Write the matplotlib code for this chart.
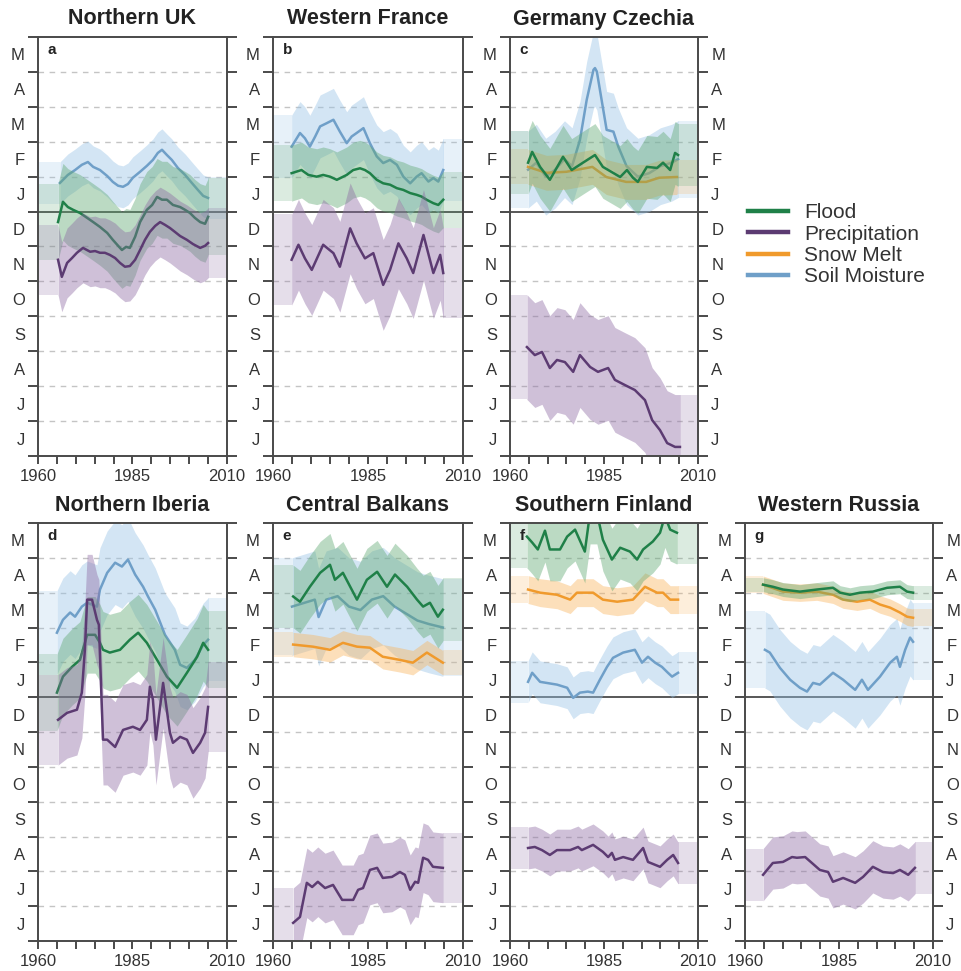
import matplotlib
matplotlib.use('Agg')
import matplotlib.pyplot as plt
import numpy as np
from matplotlib.lines import Line2D

plt.rcParams['font.family'] = ['Liberation Sans', 'DejaVu Sans']

# ---------------- data ----------------
MONTH_LABELS = ['J', 'J', 'A', 'S', 'O', 'N', 'D', 'J', 'F', 'M', 'A', 'M']
YEAR_LABELS = [1960, 1985, 2010]
SERIES_NAMES = ['Flood', 'Precipitation', 'Snow Melt', 'Soil Moisture']
PANEL_TITLES = ['Northern UK', 'Western France', 'Germany Czechia',
                'Northern Iberia', 'Central Balkans', 'Southern Finland', 'Western Russia']
PANEL_LETTERS = ['a', 'b', 'c', 'd', 'e', 'f', 'g']

# a: Northern UK
a_soil_x = [1965.8, 1967.9, 1969.8, 1971.6, 1973.2, 1974.6, 1976.4, 1978.3, 1979.8, 1981.2, 1982.5, 1983.8, 1985.1,
            1987.0, 1988.8, 1990.4, 1991.7, 1992.8, 1994.1, 1995.4, 1997.0, 1998.9, 2000.7, 2002.3, 2003.7, 2005.0]
a_soil_y = [7.82, 8.05, 8.19, 8.34, 8.42, 8.28, 8.19, 8.02, 7.85, 7.74, 7.71, 7.79, 7.97,
            8.14, 8.31, 8.48, 8.68, 8.77, 8.62, 8.48, 8.25, 8.05, 7.82, 7.62, 7.45, 7.39]
a_flood_x = [1965.3, 1966.6, 1967.9, 1969.3, 1971.1, 1973.0, 1974.6, 1976.4, 1978.3, 1979.8, 1981.2, 1982.2, 1983.3,
             1984.3, 1985.7, 1987.0, 1988.8, 1990.2, 1991.5, 1992.8, 1994.1, 1995.7, 1997.6, 1998.9, 2000.2, 2001.5,
             2002.9, 2004.2, 2005.0]
a_flood_y = [6.70, 7.28, 7.13, 7.05, 6.96, 6.82, 6.70, 6.56, 6.39, 6.19, 6.02, 5.90, 5.99,
             5.96, 6.28, 6.70, 7.05, 7.19, 7.42, 7.34, 7.34, 7.19, 7.13, 7.05, 6.96, 6.82,
             6.70, 6.65, 6.85]
a_precip_x = [1965.3, 1966.3, 1967.7, 1969.0, 1970.3, 1971.9, 1973.8, 1975.1, 1976.4, 1977.7, 1979.0, 1980.4, 1981.7,
              1983.0, 1984.3, 1985.7, 1987.0, 1988.3, 1989.6, 1991.0, 1992.3, 1993.6, 1994.9, 1996.2, 1997.6, 1999.4,
              2001.0, 2002.9, 2004.2, 2005.0]
a_precip_y = [5.62, 5.13, 5.53, 5.67, 5.82, 5.96, 5.85, 5.87, 5.82, 5.82, 5.76, 5.67, 5.53,
              5.42, 5.44, 5.62, 5.90, 6.19, 6.42, 6.59, 6.70, 6.62, 6.53, 6.42, 6.30, 6.19,
              6.07, 5.96, 6.02, 6.10]

# b: Western France
b_soil_x = [1964.9, 1967.1, 1968.4, 1969.7, 1971.1, 1972.4, 1974.1, 1975.9, 1977.6, 1979.4, 1980.7, 1982.0, 1983.8,
            1985.5, 1987.3, 1989.0, 1990.8, 1992.6, 1994.3, 1996.1, 1997.8, 1999.1, 2000.9, 2002.2, 2003.5, 2004.8]
b_soil_y = [8.86, 9.25, 9.10, 8.86, 9.15, 9.44, 9.53, 9.63, 9.29, 8.96, 9.15, 9.25, 9.39,
            8.96, 8.58, 8.39, 8.48, 8.34, 8.00, 7.81, 8.00, 8.10, 7.86, 7.96, 7.86, 8.19]
b_flood_x = [1964.9, 1967.5, 1969.3, 1971.5, 1973.2, 1975.0, 1976.8, 1979.4, 1981.1, 1982.9, 1984.2, 1985.5, 1987.3,
             1989.0, 1990.8, 1992.6, 1994.3, 1996.1, 1997.8, 1999.1, 2000.4, 2002.2, 2003.5, 2004.8]
b_flood_y = [8.10, 8.19, 8.05, 8.00, 8.05, 8.00, 7.91, 8.05, 8.19, 8.24, 8.19, 8.10, 7.91,
             7.81, 7.77, 7.67, 7.62, 7.53, 7.48, 7.43, 7.34, 7.24, 7.19, 7.34]
b_precip_x = [1964.9, 1966.7, 1968.4, 1970.2, 1973.2, 1975.9, 1977.6, 1980.3, 1982.0, 1984.2, 1986.4, 1989.0, 1990.8,
              1993.0, 1995.2, 1996.9, 1999.6, 2002.2, 2004.0, 2004.8]
b_precip_y = [5.62, 6.05, 5.66, 5.33, 6.05, 5.81, 5.42, 6.52, 6.09, 5.66, 5.81, 4.90, 5.33,
              6.09, 5.66, 5.24, 6.33, 5.24, 5.76, 5.24]

# c: Germany Czechia
c_soil_x = [1964.8, 1967.0, 1969.5, 1972.0, 1974.5, 1976.5, 1978.6, 1980.4, 1982.2, 1982.6, 1983.1, 1985.7, 1987.5,
            1988.8, 1991.0, 1994.0, 1997.0, 2000.0, 2003.0, 2004.7]
c_soil_y = [8.2, 8.4, 8.0, 8.2, 8.5, 8.3, 9.05, 10.2, 11.06, 11.11, 11.01, 9.34, 9.29,
            8.86, 8.3, 8.0, 8.1, 8.3, 8.4, 8.5]
c_flood_x = [1964.8, 1965.9, 1968.0, 1970.6, 1974.1, 1976.4, 1979.4, 1982.6, 1984.7, 1987.4, 1989.3, 1991.1, 1992.7,
             1994.0, 1996.4, 1999.1, 2000.7, 2002.6, 2003.9, 2004.7]
c_flood_y = [8.40, 8.71, 8.28, 7.91, 8.57, 8.19, 8.40, 8.62, 8.28, 8.11, 7.99, 8.19, 7.97,
             7.85, 8.28, 8.25, 8.40, 8.19, 8.68, 8.62]
c_snow_x = [1964.8, 1969.7, 1975.0, 1981.9, 1985.6, 1990.9, 1996.2, 1999.7, 2004.4]
c_snow_y = [8.28, 8.11, 8.14, 8.28, 7.99, 7.85, 7.85, 7.97, 7.99]
c_precip_x = [1964.5, 1966.6, 1968.5, 1970.6, 1972.5, 1974.6, 1976.8, 1978.6, 1981.3, 1983.4, 1986.1, 1987.9, 1990.6,
              1993.2, 1995.9, 1997.8, 1999.9, 2001.8, 2003.9, 2005.2]
c_precip_y = [3.12, 2.89, 2.98, 2.52, 2.75, 2.69, 2.41, 2.89, 2.55, 2.41, 2.52, 2.18, 2.03,
              1.89, 1.60, 1.03, 0.74, 0.37, 0.26, 0.26]

# d: Northern Iberia
d_soil_x = [1965.0, 1966.6, 1968.5, 1969.8, 1971.6, 1973.0, 1975.6, 1976.4, 1978.3, 1980.4, 1982.2, 1983.8, 1985.7,
            1987.8, 1989.1, 1991.0, 1993.6, 1996.2, 1997.6, 1999.4, 2001.5, 2003.7, 2005.0]
d_soil_y = [8.85, 9.22, 9.43, 9.31, 9.60, 9.71, 9.60, 10.09, 10.57, 10.86, 10.75, 10.95, 10.52,
            10.17, 9.89, 9.51, 8.79, 8.36, 7.93, 7.84, 8.07, 8.50, 8.65]
d_flood_x = [1965.0, 1966.6, 1969.0, 1971.1, 1973.0, 1975.1, 1976.4, 1977.2, 1979.0, 1981.7, 1984.3, 1986.5, 1988.8,
             1991.5, 1994.1, 1996.8, 1999.4, 2002.1, 2003.7, 2005.0]
d_flood_y = [7.13, 7.59, 7.87, 8.07, 8.79, 8.79, 8.56, 8.36, 8.28, 8.36, 8.65, 8.85, 8.56,
             8.07, 7.59, 7.27, 7.70, 8.16, 8.56, 8.36]
d_precip_x = [1965.3, 1967.7, 1970.3, 1971.6, 1972.4, 1973.0, 1974.3, 1975.6, 1976.1, 1977.2, 1978.3, 1980.4, 1982.5,
              1985.1, 1987.0, 1988.8, 1989.6, 1990.4, 1991.2, 1993.1, 1994.9, 1995.7, 1997.6, 1999.4, 2001.0, 2002.9,
              2004.2, 2005.0]
d_precip_y = [6.35, 6.55, 6.64, 7.13, 8.36, 9.80, 9.80, 9.22, 9.08, 5.78, 5.78, 5.57, 6.06,
              6.15, 6.06, 6.35, 7.30, 6.93, 5.78, 7.41, 5.98, 5.69, 5.86, 5.78, 5.40, 5.69,
              5.98, 6.72]

# e: Central Balkans
e_soil_x = [1965.0, 1968.0, 1971.0, 1972.0, 1974.0, 1977.0, 1980.0, 1983.0, 1986.0, 1989.0, 1992.0, 1995.0, 1998.0,
            2001.0, 2004.7]
e_soil_y = [9.6, 9.7, 9.8, 9.3, 9.8, 9.9, 9.6, 9.5, 9.8, 9.9, 9.6, 9.4, 9.2, 9.1, 9.0]
e_flood_x = [1965.3, 1967.1, 1969.7, 1972.4, 1975.0, 1976.3, 1978.4, 1982.1, 1984.7, 1987.4, 1990.0, 1992.1, 1995.3,
             1997.9, 1999.5, 2001.3, 2003.4, 2004.7]
e_flood_y = [9.89, 9.74, 10.17, 10.57, 10.80, 10.37, 10.57, 9.80, 10.37, 10.60, 10.17, 10.52, 10.17,
             9.80, 9.60, 9.71, 9.31, 9.51]
e_snow_x = [1965.3, 1970.5, 1975.0, 1978.4, 1982.1, 1985.5, 1988.9, 1993.4, 1996.8, 2000.5, 2004.7]
e_snow_y = [8.51, 8.45, 8.36, 8.56, 8.45, 8.42, 8.16, 8.07, 7.99, 8.28, 7.99]
e_precip_x = [1965.3, 1967.1, 1968.9, 1970.3, 1971.8, 1973.7, 1975.8, 1978.2, 1981.1, 1982.4, 1983.7, 1985.5, 1987.4,
              1988.9, 1991.3, 1993.4, 1994.7, 1996.1, 1997.4, 1998.2, 1999.5, 2000.8, 2002.1, 2004.7]
e_precip_y = [0.52, 0.69, 1.67, 1.55, 1.70, 1.52, 1.61, 1.18, 1.18, 1.47, 1.52, 2.04, 2.10,
              1.81, 1.84, 1.98, 1.90, 1.47, 1.70, 1.67, 2.39, 2.33, 2.13, 2.10]

# f: Southern Finland
f_flood_x = [1964.5, 1965.9, 1967.4, 1969.3, 1970.6, 1973.3, 1975.2, 1977.3, 1979.9, 1981.3, 1983.1, 1984.7, 1987.1,
             1989.3, 1991.9, 1993.8, 1995.4, 1998.0, 1999.9, 2001.2, 2002.6, 2004.4]
f_flood_y = [11.61, 11.44, 11.24, 11.78, 11.24, 11.24, 11.61, 11.81, 11.18, 12.3, 12.3, 11.52, 10.95,
             11.29, 11.18, 10.95, 11.24, 11.47, 11.72, 12.2, 11.81, 11.72]
f_snow_x = [1964.8, 1968.0, 1972.5, 1976.0, 1977.8, 1982.1, 1984.7, 1988.5, 1992.7, 1995.9, 1999.1, 2000.7, 2002.6,
            2004.7]
f_snow_y = [10.09, 10.0, 9.94, 9.80, 10.0, 10.0, 9.80, 9.74, 9.80, 10.17, 10.0, 10.0, 9.80, 9.80]
f_soil_x = [1964.8, 1965.9, 1968.0, 1972.5, 1975.2, 1976.8, 1978.6, 1980.7, 1982.1, 1983.9, 1985.8, 1987.4, 1990.1,
            1993.2, 1995.1, 1996.7, 1998.6, 2000.4, 2002.0, 2003.1, 2004.7]
f_soil_y = [7.44, 7.70, 7.44, 7.36, 7.27, 6.98, 7.13, 7.16, 7.13, 7.50, 7.87, 8.13, 8.28,
            8.36, 7.99, 8.16, 7.99, 7.87, 7.70, 7.59, 7.70]
f_precip_x = [1964.8, 1966.6, 1968.5, 1970.6, 1972.5, 1976.0, 1978.1, 1979.1, 1982.1, 1984.7, 1986.1, 1987.1, 1987.9,
              1990.1, 1992.7, 1995.4, 1996.7, 1999.9, 2001.8, 2003.4, 2004.7]
f_precip_y = [2.67, 2.70, 2.61, 2.47, 2.61, 2.61, 2.70, 2.61, 2.76, 2.56, 2.41, 2.53, 2.33,
              2.41, 2.33, 2.67, 2.27, 2.13, 2.33, 2.47, 2.24]

# g: Western Russia
g_flood_x = [1964.8, 1967.4, 1970.1, 1974.6, 1979.1, 1983.4, 1985.3, 1987.9, 1990.6, 1994.0, 1997.8, 2001.2, 2003.1,
             2004.7]
g_flood_y = [10.23, 10.17, 10.09, 10.03, 10.09, 10.14, 10.0, 9.94, 10.0, 10.03, 10.14, 10.17, 10.03, 10.0]
g_snow_x = [1964.8, 1970.1, 1974.6, 1979.1, 1983.4, 1986.1, 1989.8, 1993.2, 1995.9, 1998.6, 2001.2, 2003.1, 2004.7]
g_snow_y = [10.23, 10.03, 10.0, 10.03, 9.94, 9.80, 9.74, 9.80, 9.66, 9.57, 9.43, 9.31, 9.28]
g_soil_x = [1965.3, 1966.6, 1969.3, 1972.0, 1974.6, 1976.5, 1978.1, 1979.9, 1983.4, 1986.1, 1989.3, 1991.1, 1992.7,
            1995.9, 1998.6, 2000.4, 2001.2, 2002.6, 2003.9, 2004.7]
g_soil_y = [8.36, 8.28, 7.84, 7.50, 7.27, 7.16, 7.41, 7.36, 7.70, 7.50, 7.21, 7.50, 7.21,
            7.59, 7.99, 8.16, 7.87, 8.36, 8.71, 8.59]
g_precip_x = [1964.8, 1967.4, 1970.1, 1972.5, 1973.8, 1976.0, 1977.8, 1979.9, 1982.1, 1983.4, 1986.1, 1989.3, 1991.4,
              1994.0, 1996.7, 1999.4, 2001.2, 2003.4, 2005.2]
g_precip_y = [1.90, 2.24, 2.27, 2.41, 2.39, 2.41, 2.24, 2.04, 1.98, 1.70, 1.81, 1.67, 1.84,
              2.13, 1.98, 1.95, 2.04, 1.90, 2.10]

# uncertainty half-widths (months) per panel/series
a_hw = {'Soil Moisture': 0.6, 'Flood': 1.1, 'Precipitation': 1.0}
b_hw = {'Soil Moisture': 0.9, 'Flood': 0.8, 'Precipitation': 1.3}
c_hw = {'Soil Moisture': 1.1, 'Flood': 0.9, 'Snow Melt': 0.5, 'Precipitation': 1.5}
d_hw = {'Soil Moisture': 1.2, 'Flood': 1.1, 'Precipitation': 1.3}
e_hw = {'Soil Moisture': 1.4, 'Flood': 0.9, 'Snow Melt': 0.35, 'Precipitation': 1.0}
f_hw = {'Flood': 0.9, 'Snow Melt': 0.4, 'Soil Moisture': 0.6, 'Precipitation': 0.6}
g_hw = {'Flood': 0.2, 'Snow Melt': 0.25, 'Soil Moisture': 1.1, 'Precipitation': 0.75}

# ---------------- style ----------------
LINE_COLORS = {'Flood': '#1f8048', 'Precipitation': '#5c3b72', 'Snow Melt': '#f09a2c', 'Soil Moisture': '#6f9fc8'}
BAND_COLORS = {'Flood': '#5fa872', 'Precipitation': '#8d6aa3', 'Snow Melt': '#f9b35c', 'Soil Moisture': '#96c2e6'}
AX_COLOR = '#4a4a4a'

panels = [
    ('a', [('Soil Moisture', a_soil_x, a_soil_y), ('Flood', a_flood_x, a_flood_y),
           ('Precipitation', a_precip_x, a_precip_y)], a_hw),
    ('b', [('Soil Moisture', b_soil_x, b_soil_y), ('Flood', b_flood_x, b_flood_y),
           ('Precipitation', b_precip_x, b_precip_y)], b_hw),
    ('c', [('Soil Moisture', c_soil_x, c_soil_y), ('Snow Melt', c_snow_x, c_snow_y),
           ('Flood', c_flood_x, c_flood_y), ('Precipitation', c_precip_x, c_precip_y)], c_hw),
    ('d', [('Soil Moisture', d_soil_x, d_soil_y), ('Flood', d_flood_x, d_flood_y),
           ('Precipitation', d_precip_x, d_precip_y)], d_hw),
    ('e', [('Soil Moisture', e_soil_x, e_soil_y), ('Snow Melt', e_snow_x, e_snow_y),
           ('Flood', e_flood_x, e_flood_y), ('Precipitation', e_precip_x, e_precip_y)], e_hw),
    ('f', [('Soil Moisture', f_soil_x, f_soil_y), ('Snow Melt', f_snow_x, f_snow_y),
           ('Flood', f_flood_x, f_flood_y), ('Precipitation', f_precip_x, f_precip_y)], f_hw),
    ('g', [('Soil Moisture', g_soil_x, g_soil_y), ('Snow Melt', g_snow_x, g_snow_y),
           ('Flood', g_flood_x, g_flood_y), ('Precipitation', g_precip_x, g_precip_y)], g_hw),
]

W, H = 962, 971
fig = plt.figure(figsize=(W / 100, H / 100), dpi=100)

col_px = [(38, 227), (273, 463), (510, 698), (745, 933)]
row_px = [(37, 456), (523, 941)]
positions = [(0, 0), (0, 1), (0, 2), (1, 0), (1, 1), (1, 2), (1, 3)]


def make_axes(r, c):
    x0, x1 = col_px[c]
    y0, y1 = row_px[r]
    return fig.add_axes([x0 / W, 1 - y1 / H, (x1 - x0) / W, (y1 - y0) / H])


for idx, (letter, series, hw) in enumerate(panels):
    r, c = positions[idx]
    ax = make_axes(r, c)
    ax.set_xlim(1960, 2010)
    ax.set_ylim(0, 12)

    # month grid
    for m in range(1, 12):
        if m == 7:
            ax.axhline(m, color=AX_COLOR, lw=1.3, zorder=1)
        else:
            ax.axhline(m, color='#c4c4c4', lw=1.0, ls=(0, (4, 4)), zorder=0.5)

    # each series: band, then its line (later bands veil earlier lines)
    z = 2
    for name, xs, ys in series:
        xs = np.asarray(xs, float)
        ys = np.asarray(ys, float)
        w = hw[name]
        ax.fill_between(xs, ys - w, ys + w, color=BAND_COLORS[name], alpha=0.42, lw=0, zorder=z)
        ax.fill_between([1960, xs[0]], [ys[0] - w] * 2, [ys[0] + w] * 2,
                        color=BAND_COLORS[name], alpha=0.22, lw=0, zorder=z)
        ax.fill_between([xs[-1], 2010], [ys[-1] - w] * 2, [ys[-1] + w] * 2,
                        color=BAND_COLORS[name], alpha=0.22, lw=0, zorder=z)
        ax.plot(xs, ys, color=LINE_COLORS[name], lw=1.8, zorder=z + 0.5, solid_joinstyle='round')
        z += 1

    # spines
    for sp in ax.spines.values():
        sp.set_color(AX_COLOR)
        sp.set_linewidth(1.4)
        sp.set_zorder(20)

    # y ticks: boundaries (major, outward) and month labels (minor)
    ax.set_yticks(np.arange(0, 13))
    ax.set_yticklabels([])
    ax.set_yticks(np.arange(0.5, 12, 1), minor=True)
    ax.set_yticklabels(MONTH_LABELS, minor=True)
    ax.tick_params(axis='y', which='major', direction='out', length=7.5, width=1.4,
                   color=AX_COLOR, left=True, right=True)
    right_labels = letter in ('c', 'g')
    ax.tick_params(axis='y', which='minor', length=0, pad=9.5, labelsize=12, labelcolor='#333333',
                   left=True, right=right_labels, labelleft=True, labelright=right_labels)

    # x ticks
    ax.set_xticks(np.arange(1960, 2011, 5))
    ax.set_xticklabels([str(v) if v in YEAR_LABELS else '' for v in range(1960, 2011, 5)])
    ax.tick_params(axis='x', which='major', direction='out', length=5.5, width=1.4, color=AX_COLOR,
                   labelsize=12, labelcolor='#333333', pad=4)

    ax.set_title(PANEL_TITLES[idx], fontsize=15.5, fontweight='bold', color='#222222', pad=9)
    ax.text(0.05, 0.985, letter, transform=ax.transAxes, fontsize=11, fontweight='bold',
            va='top', ha='left', color='#222222', zorder=6)

handles = [Line2D([0], [0], color=LINE_COLORS[n], lw=3.2) for n in SERIES_NAMES]
fig.legend(handles, SERIES_NAMES, loc='upper left', bbox_to_anchor=(748 / W, 1 - 203 / H),
           frameon=False, fontsize=15, handlelength=1.9, handletextpad=0.8,
           labelspacing=0.12, borderpad=0, borderaxespad=0, labelcolor='#333333')

fig.savefig('out.png', dpi=100)
